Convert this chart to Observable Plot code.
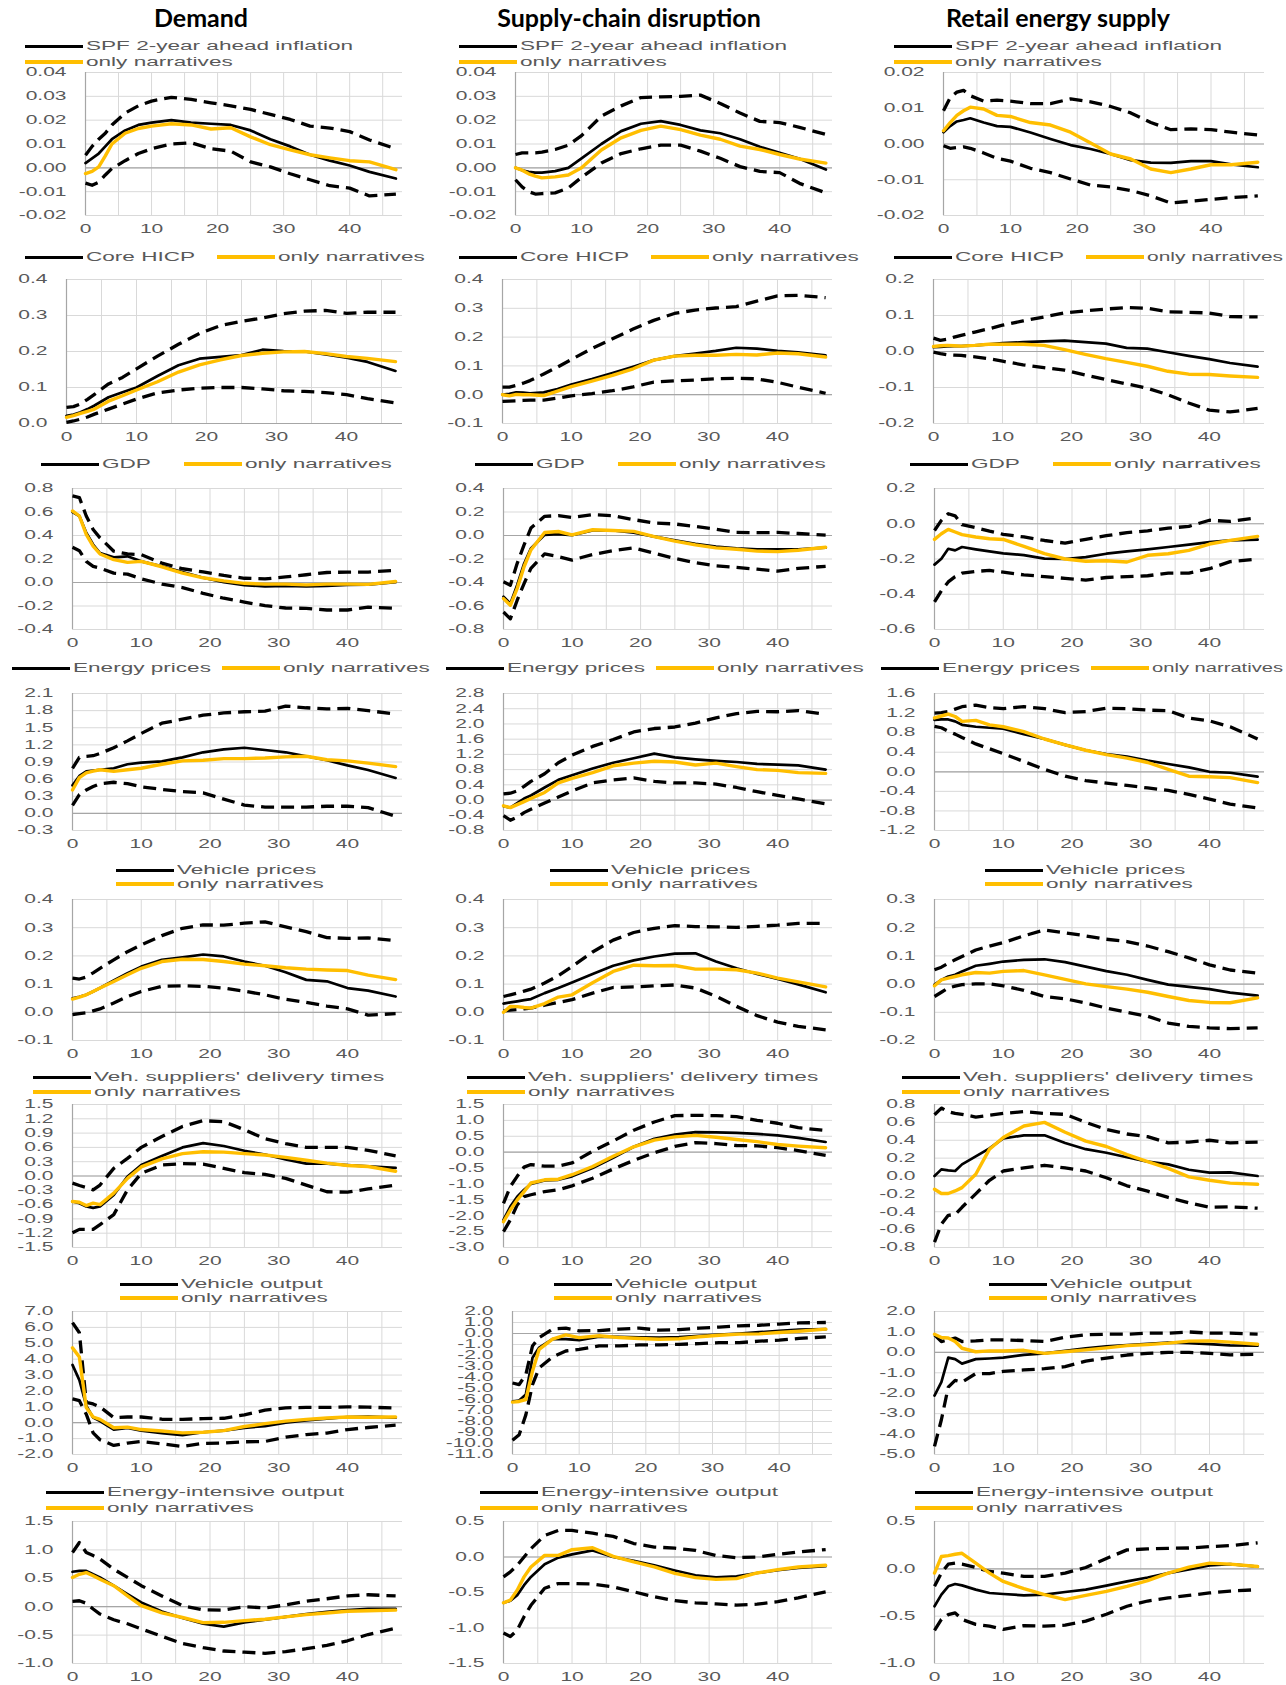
<!DOCTYPE html>
<html><head><meta charset="utf-8">
<script src="https://cdn.jsdelivr.net/npm/d3@7"></script>
<script src="https://cdn.jsdelivr.net/npm/@observablehq/plot@0.6"></script>
<style>
body{margin:0;background:#fff;}
#page{position:relative;width:1286px;height:1685px;overflow:hidden;background:#fff;font-family:"Liberation Sans",Arial,sans-serif;}
.title{position:absolute;font-family:Lato,sans-serif;font-weight:700;font-size:25px;color:#000;white-space:nowrap;transform:translate(-50%,-50%);}
.sw{position:absolute;width:58px;}
.lt{position:absolute;font-size:12px;line-height:14px;height:14px;color:#595959;white-space:nowrap;transform-origin:0 50%;}
.panel{position:absolute;}
</style></head><body><div id="page"></div><script>
// ---------- labels ----------
const shocks = ["Demand", "Supply-chain disruption", "Retail energy supply"];
const variables = ["SPF 2-year ahead inflation", "Core HICP", "GDP", "Energy prices", "Vehicle prices",
  "Veh. suppliers' delivery times", "Vehicle output", "Energy-intensive output"];
const narrLabel = "only narratives";
// ---------- horizons & ticks ----------
const H = [0,1,2,3,4,6,8,10,13,16,19,22,25,28,31,34,37,40,43,47];
const xTickLabels = [0,10,20,30,40];
const xGrid = [5,10,15,20,25,30,35,40,45];
// y axis: [min, max, step, decimals] per row, per column
const yAxis = [
 [[-0.02,0.04,0.01,2],[-0.02,0.04,0.01,2],[-0.02,0.02,0.01,2]],
 [[0,0.4,0.1,1],[-0.1,0.4,0.1,1],[-0.2,0.2,0.1,1]],
 [[-0.4,0.8,0.2,1],[-0.8,0.4,0.2,1],[-0.6,0.2,0.2,1]],
 [[-0.3,2.1,0.3,1],[-0.8,2.8,0.4,1],[-1.2,1.6,0.4,1]],
 [[-0.1,0.4,0.1,1],[-0.1,0.4,0.1,1],[-0.2,0.3,0.1,1]],
 [[-1.5,1.5,0.3,1],[-3.0,1.5,0.5,1],[-0.8,0.8,0.2,1]],
 [[-2,7,1,1],[-11,2,1,1],[-5,2,1,1]],
 [[-1.0,1.5,0.5,1],[-1.5,0.5,0.5,1],[-1.0,0.5,0.5,1]]
];
// ---------- data: irf (black), narr (yellow), hi / lo (dashed bands) ----------
const spf_dem_irf = [0.002,0.004,0.006,0.009,0.012,0.0157,0.018,0.019,0.020,0.019,0.0185,0.018,0.0157,0.012,0.009,0.0055,0.003,0.001,-0.0017,-0.0045];
const spf_dem_narr = [-0.0024,-0.0015,0.0004,0.005,0.010,0.0145,0.0165,0.0175,0.0185,0.018,0.0163,0.0168,0.013,0.0097,0.0075,0.0055,0.0042,0.003,0.0025,-0.0008];
const spf_dem_hi = [0.0053,0.009,0.012,0.0145,0.018,0.023,0.026,0.028,0.0296,0.0287,0.0273,0.026,0.0245,0.0224,0.0203,0.0175,0.0167,0.0152,0.0117,0.008];
const spf_dem_lo = [-0.0064,-0.0073,-0.006,-0.003,-0.0003,0.003,0.006,0.008,0.010,0.0105,0.008,0.007,0.0025,0.0004,-0.0025,-0.005,-0.0075,-0.0085,-0.0118,-0.011];
const spf_sup_irf = [0,-0.001,-0.0017,-0.002,-0.002,-0.0014,0,0.004,0.010,0.0154,0.0185,0.0196,0.018,0.0157,0.0145,0.012,0.0088,0.0063,0.0038,-0.0007];
const spf_sup_narr = [0,-0.001,-0.0025,-0.0035,-0.0042,-0.0038,-0.003,0,0.0075,0.0126,0.0157,0.0175,0.016,0.0137,0.012,0.0091,0.0077,0.0056,0.0037,0.002];
const spf_sup_hi = [0.0056,0.0063,0.0063,0.0063,0.0066,0.0077,0.0095,0.0135,0.0217,0.026,0.0295,0.0298,0.030,0.0305,0.027,0.023,0.0195,0.019,0.017,0.014];
const spf_sup_lo = [-0.005,-0.008,-0.010,-0.011,-0.0108,-0.0105,-0.0085,-0.004,0.002,0.006,0.008,0.0095,0.0095,0.007,0.004,0.0005,-0.0015,-0.002,-0.0065,-0.0105];
const spf_ret_irf = [0.0033,0.005,0.0063,0.0067,0.0072,0.006,0.005,0.0048,0.0032,0.0014,-0.0003,-0.0014,-0.0028,-0.0045,-0.0052,-0.0053,-0.0048,-0.0048,-0.0057,-0.0065];
const spf_ret_narr = [0.0037,0.006,0.008,0.0093,0.0103,0.0098,0.008,0.0077,0.006,0.0053,0.0033,0.0003,-0.0028,-0.0042,-0.007,-0.008,-0.007,-0.0058,-0.0058,-0.0051];
const spf_ret_hi = [0.0093,0.013,0.0145,0.015,0.0135,0.012,0.0123,0.012,0.0113,0.0113,0.0126,0.0118,0.0105,0.0087,0.006,0.004,0.0042,0.004,0.0033,0.0025];
const spf_ret_lo = [-0.0005,-0.0012,-0.001,-0.0008,-0.0012,-0.0025,-0.004,-0.0048,-0.0068,-0.008,-0.0098,-0.0115,-0.012,-0.013,-0.0145,-0.0165,-0.016,-0.0155,-0.015,-0.0145];

const hicp_dem_irf = [0.021,0.025,0.031,0.04,0.05,0.073,0.087,0.1,0.132,0.162,0.18,0.185,0.19,0.205,0.201,0.2,0.192,0.183,0.171,0.146];
const hicp_dem_narr = [0.017,0.022,0.028,0.034,0.04,0.062,0.077,0.093,0.116,0.143,0.163,0.177,0.189,0.195,0.199,0.2,0.194,0.186,0.181,0.172];
const hicp_dem_hi = [0.045,0.047,0.054,0.067,0.081,0.11,0.128,0.152,0.187,0.22,0.25,0.272,0.284,0.293,0.305,0.312,0.314,0.306,0.309,0.309];
const hicp_dem_lo = [0.003,0.007,0.012,0.018,0.026,0.04,0.054,0.068,0.085,0.093,0.098,0.1,0.1,0.096,0.091,0.089,0.086,0.08,0.069,0.057];
const hicp_sup_irf = [0,0.003,0.008,0.007,0.005,0.008,0.02,0.035,0.054,0.075,0.097,0.12,0.134,0.143,0.152,0.163,0.16,0.152,0.147,0.137];
const hicp_sup_narr = [0,-0.004,0.001,0,0,-0.003,0.012,0.028,0.047,0.067,0.09,0.12,0.134,0.137,0.137,0.14,0.138,0.145,0.142,0.131];
const hicp_sup_hi = [0.026,0.026,0.032,0.04,0.049,0.072,0.096,0.122,0.16,0.194,0.228,0.258,0.282,0.294,0.301,0.306,0.325,0.343,0.345,0.337];
const hicp_sup_lo = [-0.023,-0.022,-0.021,-0.02,-0.019,-0.019,-0.012,-0.004,0.004,0.014,0.027,0.044,0.048,0.051,0.055,0.057,0.055,0.043,0.026,0.005];
const hicp_ret_irf = [0.012,0.013,0.014,0.015,0.015,0.017,0.02,0.023,0.026,0.028,0.03,0.026,0.022,0.01,0.008,-0.002,-0.012,-0.021,-0.032,-0.042];
const hicp_ret_narr = [0.014,0.016,0.017,0.016,0.015,0.017,0.02,0.02,0.02,0.017,0.005,-0.008,-0.02,-0.03,-0.041,-0.055,-0.063,-0.064,-0.068,-0.072];
const hicp_ret_hi = [0.037,0.031,0.034,0.04,0.045,0.054,0.063,0.073,0.085,0.096,0.107,0.113,0.118,0.122,0.12,0.11,0.109,0.107,0.097,0.096];
const hicp_ret_lo = [-0.002,-0.006,-0.009,-0.01,-0.011,-0.015,-0.02,-0.027,-0.037,-0.045,-0.052,-0.065,-0.078,-0.09,-0.102,-0.12,-0.143,-0.163,-0.168,-0.158];

const gdp_dem_irf = [0.6,0.566,0.423,0.323,0.25,0.214,0.223,0.18,0.137,0.089,0.04,0.003,-0.022,-0.034,-0.03,-0.034,-0.028,-0.02,-0.018,0.003];
const gdp_dem_narr = [0.609,0.566,0.409,0.309,0.243,0.194,0.171,0.18,0.134,0.08,0.04,0.014,-0.007,-0.014,-0.014,-0.02,-0.014,-0.014,-0.016,0.009];
const gdp_dem_hi = [0.737,0.723,0.566,0.451,0.38,0.266,0.243,0.237,0.165,0.117,0.09,0.06,0.036,0.031,0.047,0.066,0.085,0.089,0.089,0.103];
const gdp_dem_lo = [0.3,0.271,0.18,0.137,0.123,0.08,0.071,0.031,-0.013,-0.043,-0.092,-0.134,-0.167,-0.197,-0.217,-0.22,-0.234,-0.234,-0.21,-0.22];
const gdp_sup_irf = [-0.52,-0.58,-0.42,-0.24,-0.11,0.006,0.011,0.003,0.043,0.043,0.025,-0.009,-0.041,-0.071,-0.095,-0.109,-0.117,-0.117,-0.117,-0.103];
const gdp_sup_narr = [-0.537,-0.594,-0.45,-0.266,-0.123,0.026,0.034,0.006,0.049,0.043,0.035,-0.009,-0.048,-0.08,-0.105,-0.117,-0.133,-0.137,-0.125,-0.1];
const gdp_sup_hi = [-0.394,-0.423,-0.237,-0.08,0.063,0.163,0.169,0.154,0.177,0.169,0.135,0.106,0.098,0.077,0.053,0.026,0.024,0.026,0.017,0.003];
const gdp_sup_lo = [-0.651,-0.709,-0.551,-0.409,-0.28,-0.157,-0.18,-0.209,-0.162,-0.129,-0.105,-0.151,-0.195,-0.231,-0.258,-0.271,-0.287,-0.303,-0.28,-0.262];
const gdp_ret_irf = [-0.232,-0.198,-0.142,-0.151,-0.132,-0.145,-0.157,-0.168,-0.178,-0.198,-0.2,-0.189,-0.17,-0.157,-0.145,-0.132,-0.118,-0.104,-0.094,-0.09];
const gdp_ret_narr = [-0.089,-0.057,-0.032,-0.047,-0.062,-0.075,-0.085,-0.089,-0.128,-0.17,-0.2,-0.213,-0.21,-0.217,-0.179,-0.17,-0.151,-0.115,-0.094,-0.072];
const gdp_ret_hi = [-0.038,0.019,0.057,0.045,-0.005,-0.022,-0.042,-0.06,-0.075,-0.095,-0.11,-0.088,-0.068,-0.05,-0.04,-0.025,-0.015,0.02,0.013,0.035];
const gdp_ret_lo = [-0.443,-0.38,-0.33,-0.3,-0.28,-0.27,-0.265,-0.275,-0.29,-0.3,-0.31,-0.32,-0.305,-0.3,-0.295,-0.28,-0.28,-0.255,-0.215,-0.2];

const en_dem_irf = [0.49,0.655,0.736,0.75,0.764,0.79,0.86,0.89,0.91,0.98,1.07,1.12,1.15,1.11,1.07,1.0,0.93,0.84,0.76,0.62];
const en_dem_narr = [0.41,0.627,0.71,0.74,0.764,0.736,0.764,0.79,0.86,0.92,0.93,0.96,0.96,0.97,0.99,1.0,0.94,0.92,0.88,0.82];
const en_dem_hi = [0.79,0.98,1.0,1.01,1.05,1.15,1.27,1.4,1.58,1.65,1.72,1.76,1.78,1.79,1.88,1.85,1.83,1.84,1.8,1.74];
const en_dem_lo = [0.14,0.33,0.41,0.47,0.52,0.545,0.52,0.465,0.42,0.38,0.36,0.25,0.145,0.11,0.11,0.11,0.125,0.125,0.1,-0.05];
const en_sup_irf = [-0.16,-0.2,-0.08,0.04,0.12,0.33,0.53,0.65,0.83,0.98,1.1,1.22,1.12,1.07,1.03,1.0,0.95,0.93,0.91,0.8];
const en_sup_narr = [-0.15,-0.2,-0.12,-0.04,0.04,0.2,0.45,0.57,0.72,0.9,0.97,1.02,1.0,0.92,0.97,0.88,0.8,0.78,0.72,0.7];
const en_sup_hi = [0.16,0.18,0.24,0.36,0.49,0.69,0.98,1.18,1.41,1.59,1.79,1.88,1.92,2.02,2.16,2.27,2.33,2.32,2.35,2.25];
const en_sup_lo = [-0.41,-0.53,-0.45,-0.33,-0.24,-0.08,0.08,0.24,0.45,0.53,0.58,0.49,0.45,0.45,0.42,0.33,0.22,0.12,0.03,-0.1];
const en_ret_irf = [1.06,1.07,1.07,1.03,0.96,0.92,0.9,0.88,0.77,0.67,0.55,0.44,0.36,0.31,0.23,0.16,0.09,0.0,-0.02,-0.1];
const en_ret_narr = [1.1,1.14,1.18,1.13,1.03,1.05,0.96,0.92,0.82,0.67,0.55,0.44,0.35,0.28,0.19,0.05,-0.09,-0.1,-0.12,-0.22];
const en_ret_hi = [1.2,1.21,1.23,1.28,1.33,1.36,1.31,1.29,1.33,1.29,1.21,1.23,1.3,1.29,1.26,1.25,1.1,1.04,0.92,0.67];
const en_ret_lo = [0.93,0.9,0.83,0.77,0.7,0.57,0.47,0.37,0.21,0.05,-0.09,-0.18,-0.23,-0.28,-0.33,-0.38,-0.46,-0.56,-0.66,-0.74];

const vp_dem_irf = [0.05,0.055,0.062,0.074,0.086,0.113,0.139,0.162,0.186,0.195,0.205,0.198,0.18,0.165,0.142,0.115,0.11,0.086,0.077,0.056];
const vp_dem_narr = [0.047,0.054,0.062,0.074,0.086,0.109,0.133,0.156,0.18,0.188,0.187,0.18,0.171,0.165,0.158,0.153,0.15,0.148,0.132,0.116];
const vp_dem_hi = [0.121,0.118,0.125,0.14,0.156,0.186,0.215,0.239,0.272,0.298,0.31,0.309,0.316,0.321,0.303,0.286,0.265,0.262,0.264,0.254];
const vp_dem_lo = [-0.008,-0.005,-0.002,0.005,0.012,0.033,0.056,0.074,0.092,0.094,0.092,0.086,0.075,0.062,0.046,0.035,0.022,0.012,-0.01,-0.005];
const vp_sup_irf = [0.031,0.035,0.039,0.043,0.047,0.068,0.086,0.106,0.136,0.165,0.184,0.198,0.208,0.209,0.18,0.156,0.136,0.118,0.099,0.071];
const vp_sup_narr = [0.0,0.021,0.02,0.017,0.015,0.031,0.054,0.062,0.105,0.145,0.167,0.165,0.166,0.153,0.153,0.151,0.139,0.121,0.108,0.09];
const vp_sup_hi = [0.056,0.062,0.068,0.075,0.082,0.104,0.13,0.162,0.214,0.256,0.283,0.298,0.307,0.304,0.303,0.301,0.305,0.309,0.315,0.315];
const vp_sup_lo = [0.005,0.008,0.01,0.012,0.015,0.025,0.035,0.045,0.068,0.088,0.09,0.094,0.097,0.086,0.057,0.021,-0.012,-0.035,-0.05,-0.062];
const vp_ret_irf = [-0.002,0.015,0.027,0.033,0.045,0.065,0.072,0.08,0.086,0.088,0.078,0.062,0.046,0.033,0.015,-0.002,-0.01,-0.018,-0.03,-0.041];
const vp_ret_narr = [-0.006,0.015,0.021,0.027,0.033,0.041,0.039,0.045,0.048,0.033,0.017,0.001,-0.009,-0.018,-0.029,-0.044,-0.058,-0.065,-0.066,-0.049];
const vp_ret_hi = [0.051,0.06,0.074,0.086,0.098,0.121,0.135,0.147,0.171,0.192,0.182,0.171,0.159,0.151,0.135,0.115,0.093,0.068,0.05,0.039];
const vp_ret_lo = [-0.044,-0.029,-0.014,-0.007,-0.002,0.001,0.001,-0.006,-0.022,-0.044,-0.052,-0.067,-0.085,-0.1,-0.114,-0.138,-0.15,-0.155,-0.158,-0.155];

const dt_dem_irf = [-0.535,-0.57,-0.64,-0.67,-0.64,-0.4,-0.01,0.23,0.42,0.6,0.69,0.63,0.53,0.45,0.35,0.26,0.26,0.23,0.2,0.17];
const dt_dem_narr = [-0.535,-0.55,-0.62,-0.57,-0.6,-0.36,-0.05,0.19,0.36,0.47,0.51,0.5,0.47,0.44,0.39,0.33,0.27,0.22,0.2,0.1];
const dt_dem_hi = [-0.15,-0.2,-0.24,-0.29,-0.19,0.16,0.37,0.6,0.83,1.04,1.16,1.14,0.97,0.78,0.68,0.6,0.6,0.6,0.54,0.42];
const dt_dem_lo = [-1.19,-1.12,-1.12,-1.12,-1.02,-0.81,-0.29,0.055,0.23,0.26,0.25,0.16,0.07,0.035,-0.05,-0.19,-0.33,-0.34,-0.27,-0.19];
const dt_sup_irf = [-2.13,-1.71,-1.4,-1.18,-1.0,-0.89,-0.87,-0.76,-0.5,-0.18,0.17,0.42,0.55,0.63,0.62,0.61,0.575,0.53,0.45,0.32];
const dt_sup_narr = [-2.19,-1.82,-1.5,-1.24,-0.97,-0.87,-0.85,-0.71,-0.45,-0.13,0.17,0.38,0.48,0.53,0.47,0.4,0.33,0.24,0.19,0.14];
const dt_sup_hi = [-1.61,-1.08,-0.76,-0.47,-0.39,-0.44,-0.44,-0.34,0.03,0.35,0.69,0.95,1.15,1.16,1.15,1.12,1.0,0.91,0.77,0.68];
const dt_sup_lo = [-2.5,-2.13,-1.66,-1.4,-1.34,-1.24,-1.18,-1.06,-0.82,-0.53,-0.26,-0.02,0.18,0.3,0.27,0.21,0.2,0.14,0.05,-0.1];
const dt_ret_irf = [0,0.074,0.063,0.056,0.13,0.22,0.31,0.42,0.455,0.455,0.37,0.3,0.26,0.21,0.16,0.13,0.07,0.037,0.04,0.0];
const dt_ret_narr = [-0.148,-0.196,-0.196,-0.167,-0.13,0.02,0.3,0.43,0.56,0.6,0.49,0.39,0.33,0.24,0.16,0.085,-0.01,-0.048,-0.08,-0.093];
const dt_ret_hi = [0.685,0.76,0.72,0.7,0.69,0.66,0.68,0.7,0.72,0.7,0.69,0.6,0.52,0.47,0.44,0.37,0.38,0.4,0.37,0.38];
const dt_ret_lo = [-0.74,-0.54,-0.44,-0.43,-0.35,-0.2,-0.048,0.056,0.09,0.12,0.09,0.056,-0.02,-0.11,-0.17,-0.24,-0.3,-0.35,-0.345,-0.36];

const vo_dem_irf = [3.64,2.68,1.07,0.32,0.1,-0.43,-0.32,-0.5,-0.65,-0.78,-0.6,-0.5,-0.32,-0.21,0.0,0.15,0.26,0.36,0.38,0.32];
const vo_dem_narr = [4.71,4.13,0.96,0.36,0.21,-0.32,-0.28,-0.43,-0.52,-0.64,-0.6,-0.5,-0.24,-0.06,0.1,0.21,0.3,0.36,0.34,0.36];
const vo_dem_hi = [6.3,5.66,1.28,1.18,1.0,0.32,0.36,0.36,0.22,0.21,0.26,0.28,0.5,0.79,0.94,0.96,0.96,1.0,0.98,0.92];
const vo_dem_lo = [1.5,1.39,0.54,-0.64,-1.07,-1.43,-1.28,-1.18,-1.33,-1.5,-1.3,-1.28,-1.2,-1.18,-0.91,-0.75,-0.65,-0.43,-0.3,-0.15];
const vo_sup_irf = [-6.18,-6.1,-5.55,-2.2,-1.28,-0.52,-0.52,-0.61,-0.28,-0.3,-0.35,-0.37,-0.33,-0.21,-0.09,0.0,0.12,0.24,0.35,0.4];
const vo_sup_narr = [-6.24,-6.18,-6.0,-3.43,-1.44,-0.52,-0.12,-0.37,-0.21,-0.37,-0.46,-0.52,-0.48,-0.3,-0.16,-0.06,-0.03,0.09,0.21,0.4];
const vo_sup_hi = [-4.5,-4.65,-3.73,-1.13,-0.37,0.4,0.49,0.24,0.27,0.4,0.49,0.3,0.35,0.49,0.58,0.7,0.75,0.86,0.96,1.0];
const vo_sup_lo = [-9.7,-9.2,-7.4,-4.65,-3.12,-2.14,-1.59,-1.44,-1.13,-1.13,-1.04,-1.04,-0.98,-0.92,-0.83,-0.83,-0.7,-0.61,-0.45,-0.3];
const vo_ret_irf = [-2.12,-1.46,-0.26,-0.33,-0.55,-0.33,-0.3,-0.26,-0.12,-0.05,0.08,0.2,0.3,0.36,0.42,0.48,0.45,0.4,0.34,0.33];
const vo_ret_narr = [0.89,0.73,0.7,0.53,0.2,0.03,0.07,0.07,0.1,-0.05,0.03,0.12,0.22,0.33,0.38,0.45,0.55,0.56,0.5,0.4];
const vo_ret_hi = [0.86,0.53,0.61,0.7,0.53,0.56,0.61,0.61,0.58,0.53,0.74,0.86,0.89,0.89,0.94,0.94,1.0,0.94,0.94,0.89];
const vo_ret_lo = [-4.6,-3.3,-1.7,-1.37,-1.46,-1.04,-1.04,-0.93,-0.86,-0.8,-0.7,-0.43,-0.28,-0.13,-0.05,0.0,0.0,-0.05,-0.12,-0.1];

const ei_dem_irf = [0.615,0.63,0.63,0.57,0.515,0.37,0.22,0.075,-0.085,-0.2,-0.3,-0.35,-0.275,-0.23,-0.18,-0.13,-0.09,-0.06,-0.04,-0.04];
const ei_dem_narr = [0.515,0.57,0.6,0.545,0.485,0.37,0.19,0.018,-0.11,-0.19,-0.28,-0.275,-0.245,-0.22,-0.18,-0.14,-0.11,-0.08,-0.07,-0.06];
const ei_dem_hi = [0.955,1.13,0.955,0.9,0.84,0.66,0.515,0.37,0.19,0.018,-0.055,-0.06,0.0,-0.02,0.03,0.095,0.14,0.19,0.21,0.19];
const ei_dem_lo = [0.095,0.105,0.06,-0.04,-0.13,-0.23,-0.3,-0.39,-0.52,-0.65,-0.72,-0.78,-0.8,-0.82,-0.79,-0.74,-0.68,-0.6,-0.49,-0.38];
const ei_sup_irf = [-0.645,-0.617,-0.537,-0.397,-0.28,-0.103,-0.009,0.037,0.093,0.0,-0.055,-0.117,-0.19,-0.257,-0.285,-0.271,-0.225,-0.187,-0.152,-0.13];
const ei_sup_narr = [-0.645,-0.607,-0.467,-0.28,-0.14,0.023,0.023,0.103,0.131,0.009,-0.07,-0.14,-0.23,-0.29,-0.315,-0.304,-0.225,-0.178,-0.14,-0.117];
const ei_sup_hi = [-0.28,-0.21,-0.117,0.0,0.117,0.304,0.374,0.374,0.335,0.29,0.19,0.14,0.125,0.093,0.02,-0.009,0.0,0.037,0.07,0.105];
const ei_sup_lo = [-1.07,-1.12,-1.03,-0.84,-0.68,-0.44,-0.374,-0.374,-0.38,-0.42,-0.49,-0.56,-0.615,-0.645,-0.66,-0.678,-0.665,-0.63,-0.575,-0.49];
const ei_ret_irf = [-0.395,-0.273,-0.185,-0.16,-0.175,-0.22,-0.255,-0.266,-0.28,-0.273,-0.245,-0.22,-0.178,-0.133,-0.092,-0.045,-0.007,0.035,0.05,0.024];
const ei_ret_narr = [-0.045,0.13,0.14,0.154,0.164,0.06,-0.045,-0.133,-0.21,-0.273,-0.325,-0.28,-0.238,-0.185,-0.125,-0.045,0.018,0.06,0.05,0.024];
const ei_ret_hi = [-0.185,-0.045,0.049,0.06,0.049,0.014,-0.028,-0.045,-0.08,-0.08,-0.045,0.014,0.11,0.2,0.21,0.217,0.22,0.234,0.245,0.275];
const ei_ret_lo = [-0.65,-0.535,-0.483,-0.465,-0.535,-0.587,-0.605,-0.64,-0.6,-0.605,-0.595,-0.552,-0.48,-0.395,-0.34,-0.308,-0.28,-0.255,-0.235,-0.22];

// table built from the arrays: [row][col] -> [irf, narr, hi, lo]
const panels = [
 [[spf_dem_irf,spf_dem_narr,spf_dem_hi,spf_dem_lo],[spf_sup_irf,spf_sup_narr,spf_sup_hi,spf_sup_lo],[spf_ret_irf,spf_ret_narr,spf_ret_hi,spf_ret_lo]],
 [[hicp_dem_irf,hicp_dem_narr,hicp_dem_hi,hicp_dem_lo],[hicp_sup_irf,hicp_sup_narr,hicp_sup_hi,hicp_sup_lo],[hicp_ret_irf,hicp_ret_narr,hicp_ret_hi,hicp_ret_lo]],
 [[gdp_dem_irf,gdp_dem_narr,gdp_dem_hi,gdp_dem_lo],[gdp_sup_irf,gdp_sup_narr,gdp_sup_hi,gdp_sup_lo],[gdp_ret_irf,gdp_ret_narr,gdp_ret_hi,gdp_ret_lo]],
 [[en_dem_irf,en_dem_narr,en_dem_hi,en_dem_lo],[en_sup_irf,en_sup_narr,en_sup_hi,en_sup_lo],[en_ret_irf,en_ret_narr,en_ret_hi,en_ret_lo]],
 [[vp_dem_irf,vp_dem_narr,vp_dem_hi,vp_dem_lo],[vp_sup_irf,vp_sup_narr,vp_sup_hi,vp_sup_lo],[vp_ret_irf,vp_ret_narr,vp_ret_hi,vp_ret_lo]],
 [[dt_dem_irf,dt_dem_narr,dt_dem_hi,dt_dem_lo],[dt_sup_irf,dt_sup_narr,dt_sup_hi,dt_sup_lo],[dt_ret_irf,dt_ret_narr,dt_ret_hi,dt_ret_lo]],
 [[vo_dem_irf,vo_dem_narr,vo_dem_hi,vo_dem_lo],[vo_sup_irf,vo_sup_narr,vo_sup_hi,vo_sup_lo],[vo_ret_irf,vo_ret_narr,vo_ret_hi,vo_ret_lo]],
 [[ei_dem_irf,ei_dem_narr,ei_dem_hi,ei_dem_lo],[ei_sup_irf,ei_sup_narr,ei_sup_hi,ei_sup_lo],[ei_ret_irf,ei_ret_narr,ei_ret_hi,ei_ret_lo]]
];

// ---------- layout (pixels) ----------
const titleX = [201, 629, 1058], titleY = 17;
const rowTop = [72, 279, 488, 693, 899, 1104, 1311, 1521];
const rowBottom = [215, 423, 629, 830, 1040, 1247, 1454, 1663];
const axisX = [[85,515,943],[66,502,933],[72,503,934],[72,503,934],[72,503,934],[72,503,934],[72,512,934],[72,503,934]];
const rightX = [402, 832, 1264];
const colOff = [0, 434, 869];
const textLimit = [446, 878, 1283];
const legY = [[46,62],[257,257],[464,464],[668,668],[870,884],[1077,1092],[1284,1298],[1492,1508]];
const legX = [[25,25],[25,217],[41,184],[12,222],[116,116],[33,33],[120,120],[46,46]];
const ML = 80, MR = 6, MT = 8, MB = 30;
const TICK_STRETCH = 1.75, LEG_STRETCH = 1.88;
const YELLOW = "#FFBE00";

const page = document.getElementById("page");
shocks.forEach((s, c) => {
  const d = document.createElement("div");
  d.className = "title"; d.textContent = s;
  d.style.left = titleX[c] + "px"; d.style.top = titleY + "px";
  page.appendChild(d);
});

function stretchText(svg) {
  svg.querySelectorAll("text").forEach(t => {
    const tr = t.getAttribute("transform") || "";
    const x = parseFloat(t.getAttribute("x")) || 0;
    const dx = parseFloat(t.getAttribute("dx")) || 0;
    t.removeAttribute("x"); t.removeAttribute("dx");
    t.setAttribute("transform", `${tr} translate(${x + dx},0) scale(${TICK_STRETCH},1)`);
  });
}

for (let r = 0; r < 8; r++) {
  for (let c = 0; c < 3; c++) {
    const [y0, y1, step, dec] = yAxis[r][c];
    const n = Math.round((y1 - y0) / step);
    const yt = d3.range(n + 1).map(i => +(y0 + i * step).toFixed(6));
    const [irf, narr, hi, lo] = panels[r][c];
    const rows = H.map((h, i) => ({h, irf: irf[i], narr: narr[i], hi: hi[i], lo: lo[i]}));
    const ax = axisX[r][c], rx = rightX[c];
    const svg = Plot.plot({
      width: rx - ax + ML + MR,
      height: rowBottom[r] - rowTop[r] + MT + MB,
      marginLeft: ML, marginRight: MR, marginTop: MT, marginBottom: MB,
      x: {domain: [0, 48], ticks: xTickLabels, tickSize: 0, tickPadding: 9, label: null, tickFormat: d => String(d)},
      y: {domain: [y0, y1], ticks: yt, tickSize: 0, tickPadding: 19, label: null, tickFormat: v => v.toFixed(dec)},
      style: {fontFamily: "'Liberation Sans', Arial, sans-serif", fontSize: "12px", color: "#595959", background: "transparent", overflow: "visible"},
      marks: [
        Plot.ruleX(xGrid, {stroke: "#D9D9D9", strokeWidth: 1}),
        Plot.ruleY(yt, {stroke: "#D9D9D9", strokeWidth: 1}),
        Plot.ruleY([0], {stroke: "#A6A6A6", strokeWidth: 1.2}),
        Plot.ruleX([0], {stroke: "#A6A6A6", strokeWidth: 1.2}),
        Plot.line(rows, {x: "h", y: "hi", stroke: "#000", strokeWidth: 3.3, strokeDasharray: "13,7", strokeLinecap: "butt"}),
        Plot.line(rows, {x: "h", y: "lo", stroke: "#000", strokeWidth: 3.3, strokeDasharray: "13,7", strokeLinecap: "butt"}),
        Plot.line(rows, {x: "h", y: "irf", stroke: "#000", strokeWidth: 2.7}),
        Plot.line(rows, {x: "h", y: "narr", stroke: YELLOW, strokeWidth: 3.4})
      ]
    });
    stretchText(svg);
    const wrap = document.createElement("div");
    wrap.className = "panel";
    wrap.style.left = (ax - ML) + "px";
    wrap.style.top = (rowTop[r] - MT) + "px";
    wrap.appendChild(svg);
    page.appendChild(wrap);

    // legend
    [[variables[r], "#000", 3, 0], [narrLabel, YELLOW, 4, 1]].forEach(([lab, col, th, k]) => {
      const x0 = colOff[c] + legX[r][k], y = legY[r][k];
      const sw = document.createElement("div");
      sw.className = "sw";
      sw.style.background = col; sw.style.height = th + "px";
      sw.style.left = x0 + "px";
      sw.style.top = (y - th / 2) + "px";
      page.appendChild(sw);
      const t = document.createElement("div");
      t.className = "lt"; t.textContent = lab;
      t.style.left = (x0 + 61) + "px";
      t.style.top = (y - 7) + "px";
      page.appendChild(t);
      const natural = t.offsetWidth;
      const room = textLimit[c] - (x0 + 61);
      const s = Math.min(LEG_STRETCH, room / natural);
      t.style.transform = `scaleX(${s})`;
    });
  }
}
</script></body></html>
